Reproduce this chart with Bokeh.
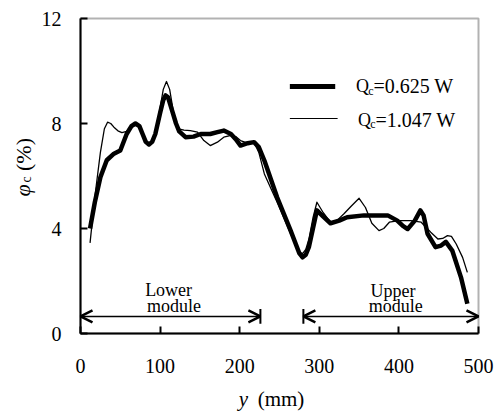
import math
from bokeh.plotting import figure
from bokeh.models import Range1d, FixedTicker, Label, Arrow, OpenHead, BoxAnnotation
from bokeh.embed import file_html
from bokeh.resources import INLINE

# ---- data ----
y_thick = [12, 18, 25, 33, 42, 50, 58, 64, 69, 74, 78, 82, 86, 90, 94, 100, 104, 107, 110, 115,
           120, 124, 132, 142, 151, 163, 172, 180, 189, 195, 201, 210, 218, 224, 231, 247, 264,
           275, 279, 283, 287, 292, 297, 305, 314, 325, 335, 356, 386, 398, 405, 411, 420, 427,
           431, 436, 446, 453, 459, 467, 478, 486]
phi_thick = [4.0, 5.0, 5.95, 6.6, 6.85, 6.97, 7.6, 7.9, 8.0, 7.9, 7.6, 7.3, 7.2, 7.3, 7.6, 8.4,
             8.9, 9.07, 9.0, 8.5, 8.0, 7.7, 7.48, 7.5, 7.6, 7.6, 7.67, 7.73, 7.6, 7.4, 7.16, 7.25,
             7.29, 7.1, 6.59, 5.19, 3.92, 3.05, 2.9, 3.0, 3.3, 4.0, 4.69, 4.45, 4.2, 4.3, 4.43,
             4.5, 4.5, 4.3, 4.1, 3.98, 4.3, 4.69, 4.5, 3.8, 3.29, 3.35, 3.49, 3.16, 2.14, 1.13]

y_thin = [12, 18, 25, 30, 34, 38, 42, 47, 52, 58, 64, 69, 74, 78, 82, 86, 90, 94, 100, 104, 108,
          112, 117, 122, 130, 138, 147, 155, 163, 172, 180, 189, 195, 201, 210, 218, 224, 231,
          247, 264, 275, 279, 283, 287, 292, 297, 305, 314, 322, 331, 340, 350, 358, 366, 375,
          381, 388, 400, 415, 428, 434, 440, 449, 455, 461, 466, 472, 480, 486]
phi_thin = [3.45, 5.2, 6.9, 7.8, 8.05, 8.0, 7.86, 7.72, 7.65, 7.7, 7.95, 8.0, 7.9, 7.6, 7.3, 7.2,
            7.3, 7.6, 8.6, 9.3, 9.6, 9.3, 8.4, 7.8, 7.75, 7.73, 7.67, 7.35, 7.16, 7.29, 7.48, 7.55,
            7.5, 7.35, 7.25, 7.29, 6.9, 6.08, 5.0, 3.8, 3.1, 3.04, 3.2, 3.6, 4.4, 5.0, 4.6, 4.24,
            4.3, 4.56, 4.85, 5.15, 4.8, 4.2, 3.92, 4.0, 4.24, 4.3, 4.3, 4.24, 4.05, 3.86, 3.6,
            3.62, 3.73, 3.7, 3.41, 2.9, 2.33]

x_ticks = [0, 100, 200, 300, 400, 500]
y_ticks = [0, 4, 8, 12]
x_lim = (0, 500)
y_lim = (0, 12)
lower_module = (0, 226)
upper_module = (280, 500)
series_names = ["=0.625 W", "=1.047 W"]

SERIF = "Liberation Serif"
W, H = 498, 412
# plot box inside the canvas (pixels): left, right, top, bottom
BOX_L, BOX_R, BOX_T, BOX_B = 80, 478, 18, 333
sx = (BOX_R - BOX_L) / (x_lim[1] - x_lim[0])
sy = (BOX_B - BOX_T) / (y_lim[1] - y_lim[0])
x_range = Range1d(x_lim[0] - BOX_L / sx, x_lim[1] + (W - BOX_R) / sx)
y_range = Range1d(y_lim[0] - (H - BOX_B) / sy, y_lim[1] + BOX_T / sy)

p = figure(width=W, height=H, output_backend="svg", toolbar_location=None,
           x_range=x_range, y_range=y_range,
           min_border_left=0, min_border_right=0, min_border_top=0, min_border_bottom=0)
p.background_fill_color = "white"
p.border_fill_color = "white"
p.xgrid.visible = False
p.ygrid.visible = False
p.outline_line_color = None

p.xaxis.fixed_location = 0
p.yaxis.fixed_location = 0
p.xaxis.bounds = x_lim
p.yaxis.bounds = y_lim
p.xaxis.ticker = FixedTicker(ticks=x_ticks)
p.yaxis.ticker = FixedTicker(ticks=y_ticks)
for ax in (p.xaxis, p.yaxis):
    ax.major_tick_in = 7
    ax.major_tick_out = 0
    ax.minor_tick_in = 0
    ax.minor_tick_out = 0
    ax.major_tick_line_width = 2
    ax.axis_line_width = 2
    ax.axis_line_color = "black"
    ax.major_label_text_font = SERIF
    ax.major_label_text_font_size = "20px"
    ax.major_label_text_color = "black"
p.xaxis.major_label_standoff = 25
p.yaxis.major_label_standoff = 19

# plot box
p.add_layout(BoxAnnotation(left=x_lim[0], right=x_lim[1], bottom=y_lim[0], top=y_lim[1],
                           fill_color=None, fill_alpha=0, line_color="black", line_width=2))

# curves
p.line(y_thick, phi_thick, line_width=4.5, line_color="black", line_join="round")
p.line(y_thin, phi_thin, line_width=1.3, line_color="black", line_join="round")

# legend (manual, for subscript)
p.line([263, 320], [9.41, 9.41], line_width=5, line_color="black")
p.line([263, 323], [8.19, 8.19], line_width=1.2, line_color="black")
for i, (yb, name) in enumerate([(9.41, series_names[0]), (8.15, series_names[1])]):
    x0 = 346 + 2.5 * i
    p.add_layout(Label(x=x0, y=yb, text="Q", text_font=SERIF, text_font_size="18px",
                       text_baseline="alphabetic", text_align="left", text_color="black"))
    p.add_layout(Label(x=x0 + 15.5, y=yb - 0.17, text="c", text_font=SERIF, text_font_size="12px",
                       text_baseline="alphabetic", text_align="left", text_color="black"))
    p.add_layout(Label(x=x0 + 22, y=yb, text=name, text_font=SERIF, text_font_size="20px",
                       text_baseline="alphabetic", text_align="left", text_color="black"))

# module arrows
for (a, b) in (lower_module, upper_module):
    p.add_layout(Arrow(x_start=a, y_start=0.65, x_end=b, y_end=0.65, line_width=1.5,
                       start=OpenHead(size=12, line_width=2.5),
                       end=OpenHead(size=12, line_width=2.5)))
p.segment(x0=[lower_module[1], upper_module[0]], y0=[0.37, 0.37],
          x1=[lower_module[1], upper_module[0]], y1=[0.93, 0.93], line_width=2, line_color="black")

for txt, x, y in (("Lower", 110.7, 1.65), ("module", 117.6, 1.04),
                  ("Upper", 392.5, 1.61), ("module", 396, 1.05)):
    p.add_layout(Label(x=x, y=y, text=txt, text_font=SERIF, text_font_size="18px",
                       text_align="center", text_baseline="alphabetic", text_color="black"))

# axis titles
p.add_layout(Label(x=198.7, y=-2.48, text="y", text_font=SERIF, text_font_size="21px",
                   text_font_style="italic", text_baseline="alphabetic", text_color="black"))
p.add_layout(Label(x=222.6, y=-2.48, text="(mm)", text_font=SERIF, text_font_size="21px",
                   text_baseline="alphabetic", text_color="black"))
p.add_layout(Label(x=-73, y=5.45, text="φ", text_font=SERIF, text_font_size="22px",
                   text_font_style="italic", angle=math.pi / 2, text_align="center",
                   text_baseline="middle", text_color="black"))
p.add_layout(Label(x=-68, y=5.87, text="c", text_font=SERIF, text_font_size="14px",
                   angle=math.pi / 2, text_align="center", text_baseline="middle",
                   text_color="black"))
p.add_layout(Label(x=-72, y=6.82, text="(%)", text_font=SERIF, text_font_size="22px",
                   angle=math.pi / 2, text_align="center", text_baseline="middle",
                   text_color="black"))

open("out.html", "w").write(file_html(p, INLINE))
